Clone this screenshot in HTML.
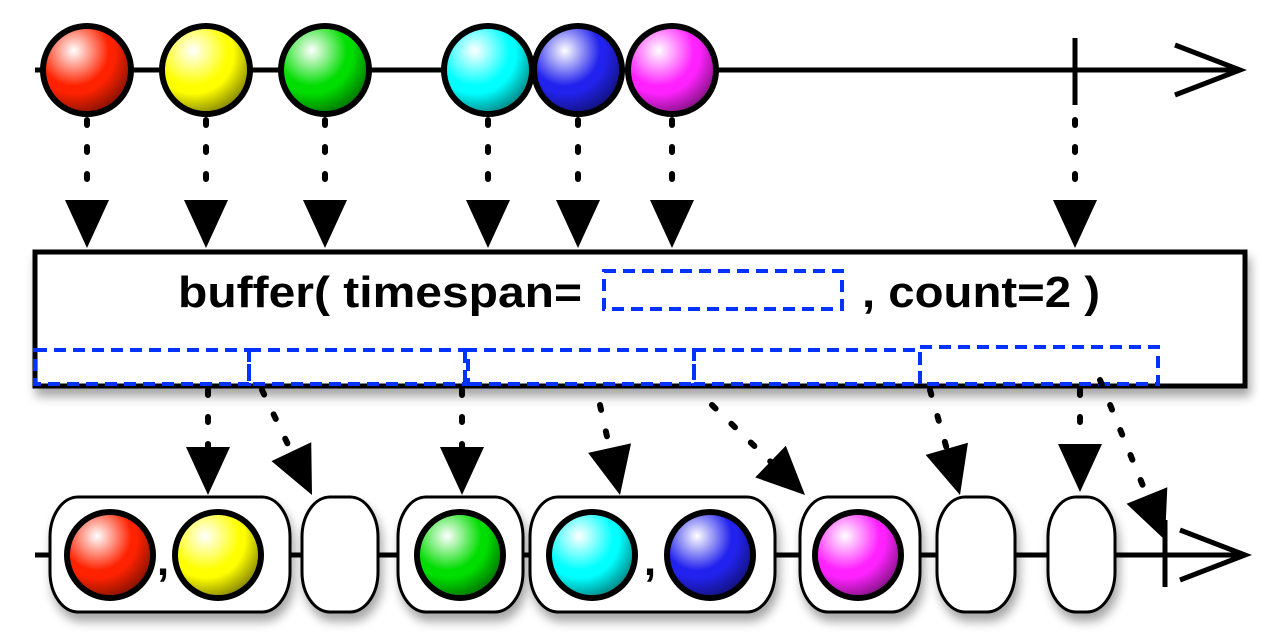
<!DOCTYPE html>
<html><head><meta charset="utf-8"><style>
html,body{margin:0;padding:0;background:#fff;}
svg{display:block;}
</style></head><body>
<svg id="c" width="1280" height="640" viewBox="0 0 1280 640" xmlns="http://www.w3.org/2000/svg">
<defs>
<filter id="sh" x="-20%" y="-20%" width="140%" height="160%"><feDropShadow dx="3" dy="8" stdDeviation="5" flood-color="#000" flood-opacity="0.35"/></filter>
</defs>
<g id="topg"></g>
<g id="box-g"></g>
<g id="bottom"></g>
<g id="arrows"></g>
</svg>
<script>
const NS='http://www.w3.org/2000/svg';
const svg=document.getElementById('c');
const inputColors=['#ff2200','#ffff00','#00dd00','#00ffff','#2222ee','#ff22ff'];
const inputX=[87,206,325,488,578,672];
const completeX=1075;
const windowRects=[[35,249],[249,468],[465,694],[694,920],[920,1158]];
const outGroups=[[50,290],[302,378],[398,523],[530,775],[800,920],[937,1015],[1048,1115]];
const outMarbles=[[110,0],[218,1],[460,2],[592,3],[710,4],[858,5]];
const commasX=[163,650];
const inArrows=[[87,248],[206,248],[325,248],[488,248],[578,248],[672,248],[1075,248]];
const outArrows=[[208,390,208,495],[262,390,312,495],[462,390,462,495],[600,405,620,495],[712,405,805,495],[930,390,960,495],[1080,390,1080,492],[1100,380,1165,540]];
function el(t,a,p){const e=document.createElementNS(NS,t);for(const k in a)e.setAttribute(k,a[k]);(p||svg).appendChild(e);return e;}
let gid=0;
function marble(cx,cy,r,col,parent,name){
  const id='g'+(gid++);
  const defs=el('defs',{},parent);
  const g=el('radialGradient',{id:id,cx:'35%',cy:'28%',r:'80%'},defs);
  el('stop',{offset:'0','stop-color':'#fff'},g);
  el('stop',{offset:'0.5','stop-color':col},g);
  el('stop',{offset:'1','stop-color':col},g);
  const g2=el('radialGradient',{id:id+'s',cx:'35%',cy:'30%',r:'75%'},defs);
  el('stop',{offset:'0.65','stop-color':'#000','stop-opacity':'0'},g2);
  el('stop',{offset:'1','stop-color':'#000','stop-opacity':'0.45'},g2);
  const c=el('circle',{cx:cx,cy:cy,r:r,fill:'url(#'+id+')',stroke:'#000','stroke-width':6},parent);
  
  
  el('circle',{cx:cx,cy:cy,r:r-3,fill:'url(#'+id+'s)'},parent);
}
const topG=document.getElementById('topg');
const tl=el('line',{x1:35,y1:70,x2:1238,y2:70,stroke:'#000','stroke-width':5},topG);


el('polyline',{points:'1175,45 1240,70 1175,95',fill:'none',stroke:'#000','stroke-width':5},topG);
el('line',{x1:completeX,y1:38,x2:completeX,y2:105,stroke:'#000','stroke-width':5},topG);
inputX.forEach((x,i)=>marble(x,70,44,inputColors[i],topG,'input-marble-'+(i+1)));
function arrow(x1,y1,x2,y2,name){
  const g=el('g',{},document.getElementById('arrows'));
  
  
  const dx=x2-x1,dy=y2-y1,L=Math.hypot(dx,dy),ux=dx/L,uy=dy/L,h=48,w=22;
  const bx=x2-ux*h,by=y2-uy*h;
  el('line',{x1:x1,y1:y1,x2:bx,y2:by,stroke:'#000','stroke-width':6,'stroke-dasharray':'5 22','stroke-linecap':'round'},g);
  el('polygon',{points:`${x2},${y2} ${bx-uy*w},${by+ux*w} ${bx+uy*w},${by-ux*w}`,fill:'#000'},g);
}
inArrows.forEach((a,i)=>arrow(a[0],120,a[0],a[1],'input-arrow-'+(i+1)));
const bg=document.getElementById('box-g');
const box=el('rect',{x:35,y:252,width:1210,height:134,fill:'#fff',stroke:'#000','stroke-width':5,filter:'url(#sh)'},bg);


const t1=el('text',{x:178,y:307,'font-family':'Liberation Sans, sans-serif','font-weight':'bold','font-size':44,fill:'#000',textLength:404,lengthAdjust:'spacingAndGlyphs'},bg);
t1.textContent='buffer( timespan=';


const tb=el('rect',{x:604,y:271,width:238,height:38,fill:'none',stroke:'#0033ff','stroke-width':4,'stroke-dasharray':'12 7'},bg);


const t2=el('text',{x:862,y:307,'font-family':'Liberation Sans, sans-serif','font-weight':'bold','font-size':44,fill:'#000',textLength:238,lengthAdjust:'spacingAndGlyphs'},bg);
t2.textContent=', count=2 )';


windowRects.forEach((w,i)=>{
  const r=el('rect',{x:w[0],y:i==4?347:350,width:w[1]-w[0],height:i==4?37:34,fill:'none',stroke:'#0033ff','stroke-width':4,'stroke-dasharray':'12 7'},bg);
  
  
});
const bot=document.getElementById('bottom');
const bl=el('line',{x1:35,y1:555,x2:1243,y2:555,stroke:'#000','stroke-width':5},bot);


el('polyline',{points:'1180,530 1245,555 1180,580',fill:'none',stroke:'#000','stroke-width':5},bot);
el('line',{x1:1165,y1:520,x2:1165,y2:587,stroke:'#000','stroke-width':5},bot);
outGroups.forEach((g,i)=>{
  const r=el('rect',{x:g[0],y:497,width:g[1]-g[0],height:115,rx:28,ry:40,fill:'#fff',stroke:'#000','stroke-width':3,filter:'url(#sh)'},bot);
  
  
});
outMarbles.forEach((m,i)=>marble(m[0],555,43,inputColors[m[1]],bot,'output-marble-'+(i+1)));
commasX.forEach((x,i)=>{
  const t=el('text',{x:x,y:575,'text-anchor':'middle','font-family':'Liberation Sans, sans-serif','font-weight':'bold','font-size':44,fill:'#000'},bot);
  t.textContent=',';
  
  
});
outArrows.forEach((a,i)=>arrow(a[0],a[1],a[2],a[3],'output-arrow-'+(i+1)));
</script>
</body></html>
